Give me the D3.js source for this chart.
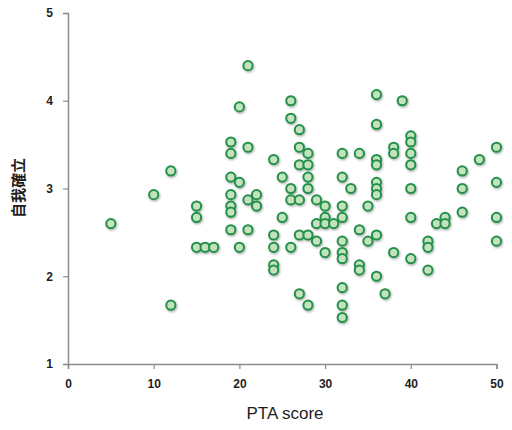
<!DOCTYPE html>
<html>
<head>
<meta charset="utf-8">
<script src="https://cdn.jsdelivr.net/npm/d3@7"></script>
<style>
  body { margin: 0; background: #fff; }
  svg { display: block; }
</style>
</head>
<body>
<svg width="512" height="430"></svg>
<script>
const svg = d3.select('svg');

// PTA score (x) and 自我確立 (y), one entry per respondent
const ptaScore = [
  5, 10, 12, 12, 15, 15, 15, 16, 17,
  19, 19, 19, 19, 19, 19, 19,
  20, 20, 20, 21, 21, 21, 21, 22, 22,
  24, 24, 24, 24, 24, 25, 25,
  26, 26, 26, 26, 26,
  27, 27, 27, 27, 27, 27,
  28, 28, 28, 28, 28, 28,
  29, 29, 29, 30, 30, 30, 30, 31,
  32, 32, 32, 32, 32, 32, 32, 32, 32, 32,
  33, 34, 34, 34, 34, 35, 35,
  36, 36, 36, 36, 36, 36, 36, 36, 36,
  37, 38, 38, 38, 39,
  40, 40, 40, 40, 40, 40, 40,
  42, 42, 42, 43, 44, 44, 46, 46, 46, 48,
  50, 50, 50, 50
];
const selfEstablish = [
  2.6, 2.93, 3.2, 1.67, 2.8, 2.67, 2.33, 2.33, 2.33,
  3.53, 3.4, 3.13, 2.93, 2.8, 2.73, 2.53,
  3.93, 3.07, 2.33, 4.4, 3.47, 2.87, 2.53, 2.93, 2.8,
  3.33, 2.47, 2.33, 2.13, 2.07, 3.13, 2.67,
  4.0, 3.8, 3.0, 2.87, 2.33,
  3.67, 3.47, 3.27, 2.87, 2.47, 1.8,
  3.4, 3.27, 3.13, 3.0, 2.47, 1.67,
  2.87, 2.6, 2.4, 2.8, 2.67, 2.6, 2.27, 2.6,
  3.4, 3.13, 2.8, 2.67, 2.4, 2.27, 2.2, 1.87, 1.67, 1.53,
  3.0, 3.4, 2.53, 2.13, 2.07, 2.8, 2.4,
  4.07, 3.73, 3.33, 3.27, 3.07, 3.0, 2.93, 2.47, 2.0,
  1.8, 3.47, 3.4, 2.27, 4.0,
  3.6, 3.53, 3.4, 3.27, 3.0, 2.67, 2.2,
  2.4, 2.33, 2.07, 2.6, 2.67, 2.6, 3.2, 3.0, 2.73, 3.33,
  3.47, 3.07, 2.67, 2.4
];
const xTicks = [0, 10, 20, 30, 40, 50];
const yTicks = [1, 2, 3, 4, 5];

const data = ptaScore.map((x, i) => ({ x: x, y: selfEstablish[i] }));

const margin = { top: 13, right: 15, bottom: 66, left: 68 };

const xScale = d3.scaleLinear()
  .domain([0, 50])
  .range([margin.left, 496.5]);

const yScale = d3.scaleLinear()
  .domain([1, 5])
  .range([364, margin.top]);

// soft shadow under the markers
const defs = svg.append('defs');
defs.append('filter')
    .attr('id', 'shadow')
    .attr('x', '-50%').attr('y', '-50%')
    .attr('width', '200%').attr('height', '200%')
  .append('feDropShadow')
    .attr('dx', 0.8).attr('dy', 1.2)
    .attr('stdDeviation', 0.9)
    .attr('flood-color', '#000')
    .attr('flood-opacity', 0.35);

// x axis
const xAxis = d3.axisBottom(xScale)
  .tickValues(xTicks)
  .tickFormat(d3.format('d'))
  .tickSize(5)
  .tickPadding(10);

const xAxisG = svg.append('g')
    .attr('class', 'x-axis')
    .attr('transform', `translate(0, ${yScale(1)})`)
    .call(xAxis);

// y axis
const yAxis = d3.axisLeft(yScale)
  .tickValues(yTicks)
  .tickFormat(d3.format('d'))
  .tickSize(5)
  .tickPadding(10);

const yAxisG = svg.append('g')
    .attr('class', 'y-axis')
    .attr('transform', `translate(${xScale(0)}, 0)`)
    .call(yAxis);

[xAxisG, yAxisG].forEach(g => {
  g.select('.domain')
    .attr('stroke', '#8c8c8c')
    .attr('stroke-width', 1.5);
  g.selectAll('.tick line')
    .attr('stroke', '#8c8c8c')
    .attr('stroke-width', 1.2);
  g.selectAll('.tick text')
    .attr('fill', '#1e1e1e')
    .style('font-family', '"Liberation Sans", Arial, sans-serif')
    .style('font-weight', 'bold')
    .style('font-size', '12px');
});

// the points
svg.append('g')
    .attr('filter', 'url(#shadow)')
  .selectAll('circle')
  .data(data)
  .enter().append('circle')
    .attr('cx', d => xScale(d.x))
    .attr('cy', d => yScale(d.y))
    .attr('r', 4.6)
    .attr('fill', '#c3e2bd')
    .attr('stroke', '#23904a')
    .attr('stroke-width', 2);

// axis titles
svg.append('text')
    .attr('x', 285)
    .attr('y', 419)
    .attr('text-anchor', 'middle')
    .attr('fill', '#1e1e1e')
    .style('font-family', '"Liberation Sans", Arial, sans-serif')
    .style('font-size', '17px')
    .text('PTA score');

svg.append('text')
    .attr('transform', 'translate(24, 188) rotate(-90)')
    .attr('text-anchor', 'middle')
    .attr('fill', '#1e1e1e')
    .style('font-family', '"Noto Sans CJK JP", sans-serif')
    .style('font-weight', 'bold')
    .style('font-size', '15px')
    .text('自我確立');
</script>
</body>
</html>
